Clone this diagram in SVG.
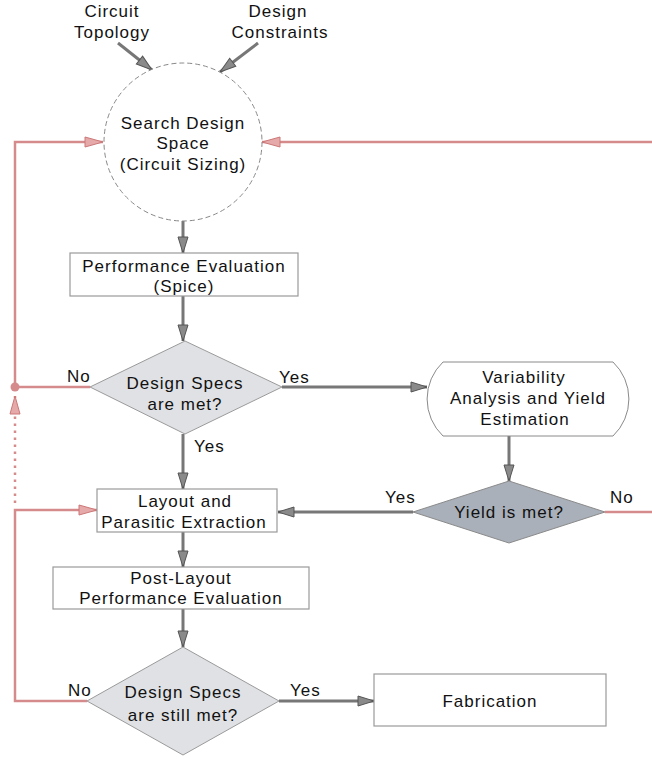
<svg xmlns="http://www.w3.org/2000/svg" width="652" height="759" viewBox="0 0 652 759">
<style>
text{font-family:"Liberation Sans",Arial,sans-serif;font-size:17px;letter-spacing:1px;fill:#111;text-anchor:middle}
.lbl{text-anchor:start}
.box{fill:#fff;stroke:#9a9a9a;stroke-width:1.2}
.dia{fill:#dfe1e4;stroke:#9a9a9a;stroke-width:1}
.dia2{fill:#a9b0b9;stroke:#8a8a8a;stroke-width:1}
.g{fill:none;stroke:#777;stroke-width:3}
.r{fill:none;stroke:#d58b8b;stroke-width:2.5}
</style>
<defs>
<marker id="ag" markerUnits="userSpaceOnUse" markerWidth="20" markerHeight="14" refX="17" refY="6" orient="auto">
<path d="M1,1 L17,6 L1,11 Z" fill="#8a8a8a" stroke="#555" stroke-width="1"/>
</marker>
<marker id="ar" markerUnits="userSpaceOnUse" markerWidth="22" markerHeight="14" refX="19" refY="6" orient="auto">
<path d="M1,1 L19,6 L1,11 Z" fill="#e6a9a9" stroke="#cc7777" stroke-width="1"/>
</marker>
</defs>
<g id="connectors">
<line class="g" x1="118" y1="43" x2="152" y2="70" marker-end="url(#ag)"/>
<line class="g" x1="258" y1="43" x2="220" y2="72" marker-end="url(#ag)"/>
<line class="g" x1="183" y1="221" x2="183" y2="253" marker-end="url(#ag)"/>
<line class="g" x1="183" y1="296" x2="183" y2="341" marker-end="url(#ag)"/>
<line class="g" x1="282" y1="387" x2="427" y2="387" marker-end="url(#ag)"/>
<line class="g" x1="183" y1="434" x2="183" y2="489" marker-end="url(#ag)"/>
<line class="g" x1="509" y1="436" x2="509" y2="481" marker-end="url(#ag)"/>
<line class="g" x1="413" y1="512" x2="278" y2="512" marker-end="url(#ag)"/>
<line class="g" x1="183" y1="532" x2="183" y2="567" marker-end="url(#ag)"/>
<line class="g" x1="183" y1="609" x2="183" y2="647" marker-end="url(#ag)"/>
<line class="g" x1="279" y1="701" x2="374" y2="701" marker-end="url(#ag)"/>
<polyline class="r" points="90,387 15,387 15,142 103,142" marker-end="url(#ar)"/>
<line class="r" x1="652" y1="142" x2="262" y2="142" marker-end="url(#ar)"/>
<line class="r" x1="15" y1="503" x2="15" y2="396" stroke-dasharray="2.5,4.5" marker-end="url(#ar)"/>
<circle cx="15" cy="387" r="4.5" fill="#d58b8b"/>
<polyline class="r" points="87,701 15,701 15,510 97,510" marker-end="url(#ar)"/>
<line class="r" x1="605" y1="512" x2="652" y2="512"/>
<text class="lbl" x="67" y="382">No</text>
<text class="lbl" x="279" y="383">Yes</text>
<text class="lbl" x="194" y="452">Yes</text>
<text class="lbl" x="385" y="503">Yes</text>
<text class="lbl" x="610" y="503">No</text>
<text class="lbl" x="68" y="696">No</text>
<text class="lbl" x="290" y="696">Yes</text>
</g>
<g id="circuit-topology">
<text x="112" y="17">Circuit</text>
<text x="112" y="38">Topology</text>
</g>
<g id="design-constraints">
<text x="278" y="17">Design</text>
<text x="280" y="38">Constraints</text>
</g>
<g id="search-design-space">
<circle cx="183" cy="142" r="79" fill="#fff" stroke="#888" stroke-width="1" stroke-dasharray="5,3"/>
<text x="183" y="129">Search Design</text>
<text x="183" y="149">Space</text>
<text x="183" y="170">(Circuit Sizing)</text>
</g>
<g id="performance-evaluation">
<rect class="box" x="70" y="253" width="228" height="43"/>
<text x="184" y="272">Performance Evaluation</text>
<text x="184" y="292">(Spice)</text>
</g>
<g id="design-specs-met">
<polygon class="dia" points="90,387 185,341 282,387 185,434"/>
<text x="185" y="389">Design Specs</text>
<text x="185" y="410">are met?</text>
</g>
<g id="variability">
<path d="M443,362 H613 A51,51 0 0 1 613,436 H443 A51,51 0 0 1 443,362 Z" fill="#fff" stroke="#8a8a8a" stroke-width="1"/>
<text x="524" y="383">Variability</text>
<text x="528" y="404">Analysis and Yield</text>
<text x="525" y="425">Estimation</text>
</g>
<g id="yield-met">
<polygon class="dia2" points="413,512 509,481 605,512 509,543"/>
<text x="509" y="518">Yield is met?</text>
</g>
<g id="layout">
<rect class="box" x="97" y="489" width="180" height="43"/>
<text x="185" y="507">Layout and</text>
<text x="184" y="528">Parasitic Extraction</text>
</g>
<g id="post-layout">
<rect class="box" x="53" y="567" width="256" height="42"/>
<text x="181" y="584">Post-Layout</text>
<text x="181" y="604">Performance Evaluation</text>
</g>
<g id="design-specs-still-met">
<polygon class="dia" points="87,701 183,647 279,701 183,755"/>
<text x="183" y="698">Design Specs</text>
<text x="183" y="721">are still met?</text>
</g>
<g id="fabrication">
<rect class="box" x="374" y="674" width="232" height="52"/>
<text x="490" y="707">Fabrication</text>
</g>
</svg>
